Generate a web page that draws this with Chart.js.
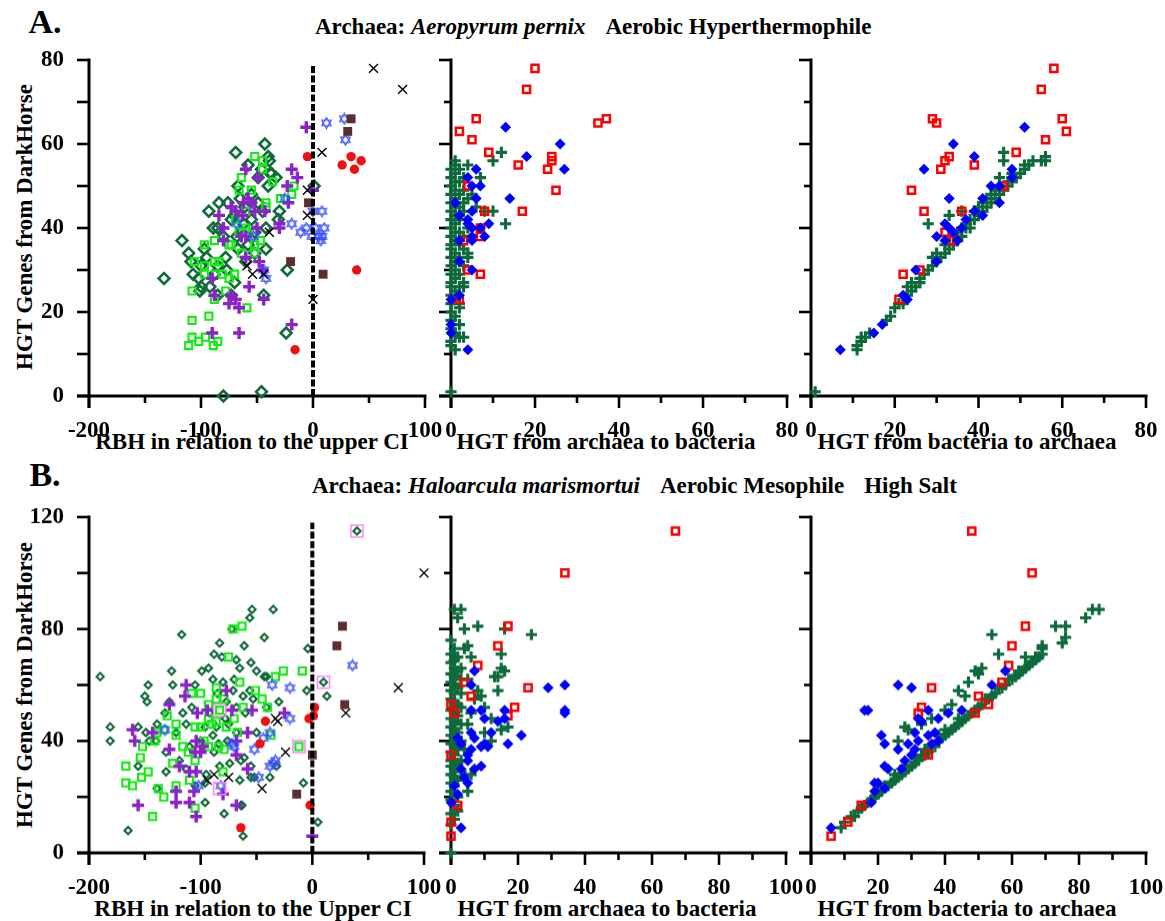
<!DOCTYPE html>
<html><head><meta charset="utf-8">
<script src="https://cdn.jsdelivr.net/npm/chart.js@4.4.0/dist/chart.umd.min.js"></script>
<style>
html,body{margin:0;padding:0;background:#fff;width:1165px;height:921px;overflow:hidden;position:relative;font-family:'Liberation Serif','Times New Roman',serif;}
canvas{position:absolute;}
.t{position:absolute;white-space:nowrap;font-weight:bold;color:#000;line-height:1;transform:translate(-50%,-50%);}
.tl{position:absolute;white-space:nowrap;font-weight:bold;color:#000;line-height:1;font-size:23px;transform:translate(0,-50%);}
.gap{display:inline-block;width:20px;}
.yt{position:absolute;white-space:nowrap;font-weight:bold;color:#000;line-height:1;font-size:23px;transform:translate(-50%,-50%) rotate(-90deg);}
.xt{position:absolute;white-space:nowrap;font-weight:bold;color:#000;line-height:1;font-size:23px;transform:translate(-50%,-50%);}
</style></head><body>
<div class="t" style="left:45px;top:22px;font-size:34px;">A.</div>
<div class="tl" style="left:315px;top:26px;">Archaea: <i>Aeropyrum pernix</i><span class="gap"></span>Aerobic Hyperthermophile</div>
<div class="t" style="left:45px;top:475px;font-size:34px;">B.</div>
<div class="tl" style="left:312px;top:485px;">Archaea: <i>Haloarcula marismortui</i><span class="gap"></span>Aerobic Mesophile<span class="gap"></span>High Salt</div>
<div class="yt" style="left:24px;top:227px;">HGT Genes from DarkHorse</div>
<div class="yt" style="left:24px;top:685px;">HGT Genes from DarkHorse</div>
<div class="xt" style="left:252px;top:441px;">RBH in relation to the upper CI</div>
<div class="xt" style="left:606px;top:441px;">HGT from archaea to bacteria</div>
<div class="xt" style="left:967px;top:441px;">HGT from bacteria to archaea</div>
<div class="xt" style="left:253px;top:908px;">RBH in relation to the Upper CI</div>
<div class="xt" style="left:607px;top:908px;">HGT from archaea to bacteria</div>
<div class="xt" style="left:967px;top:908px;">HGT from bacteria to archaea</div>
<canvas id="a1"></canvas><canvas id="a2"></canvas><canvas id="a3"></canvas>
<canvas id="b1"></canvas><canvas id="b2"></canvas><canvas id="b3"></canvas>
<script>
// ---------------- DATA ----------------
// Panel A1: RBH (x) vs HGT genes (y)
const a1Diamonds = [[-133,28],[-117,37],[-111,34],[-107,29],[-101,25],[-93,44],[-84,46],[-89,40],[-80,0],[-69,58],[-43,60],[-46,1],[-24,15],[-23,30],[1,50],[-30,44],[-42,35],[-44,24],[-40,57],[-38,53],[-39,56],[-58,55],[-67,50],[-61,45],[-73,42],[-55,42],[-49,46],[-37,53],[-78,33],[-85,31],[-100,31],[-109,32],[-70,27],[-100,26],[-67,35],[-80,38],[-49,52],[-46,54],[-33,52],[-31,42],[-55,48],[-76,46],[-85,40],[-97,35],[-73,24],[-85,24],[-102,28],[-92,26],[-64,39],[-58,36],[-52,34],[-40,50],[-62,41],[-70,43],[-52,39],[-45,44],[-65,47],[-95,33],[-88,29],[-77,30],[-60,32],[-68,38],[-42,40]];
const a1Lime = [[-52,57],[-45,56],[-45,54],[-64,52],[-36,51],[-66,49],[-55,49],[-42,46],[-42,45],[-17,50],[-19,48],[-29,47],[-69,42],[-60,40],[-66,39],[-73,36],[-88,37],[-97,36],[-52,36],[-64,34],[-52,34],[-106,32],[-97,31],[-88,32],[-84,32],[-97,29],[-87,29],[-81,29],[-75,28],[-70,29],[-108,25],[-88,23],[-78,25],[-59,21],[-108,18],[-93,19],[-108,14],[-102,13],[-96,14],[-85,13],[-111,12],[-89,12],[-75,36],[-60,44],[-58,39],[-47,37]];
const a1Purple = [[-6,64],[-60,54],[-49,52],[-19,54],[-14,52],[-23,50],[-73,45],[-84,43],[-69,44],[-58,47],[-63,43],[-43,44],[-30,41],[-30,40],[-60,38],[-80,40],[-80,37],[-50,40],[-60,33],[-48,32],[-57,26],[-90,28],[-88,24],[-73,24],[-69,23],[-66,21],[-75,22],[-44,23],[-90,15],[-66,15],[-19,17],[0,49],[-55,46],[-62,46],[-52,44],[-64,38],[-45,30],[-22,46]];
const a1Stars = [[28,66],[12,65],[29,61],[0,44],[8,44],[-19,41],[-11,39],[-6,40],[-1,38],[5,38],[10,40],[7,37],[-25,47],[-68,41],[-53,38],[-44,30],[-42,28],[2,40],[8,38]];
const a1Cross = [[54,78],[80,73],[8,58],[-5,49],[-5,43],[0,23],[-39,39],[-59,31],[-54,29],[-44,29]];
const a1Brown = [[34,66],[31,63],[-4,46],[-20,32],[9,29]];
const a1Red = [[-5,57],[26,55],[34,57],[37,54],[43,56],[39,30],[-16,11]];
const a1RefLine = [[0,0],[0,79]];

// Panel A2: HGT archaea->bacteria (x) vs HGT genes (y)
const a2Red = [[20,78],[18,73],[6,66],[2,63],[5,61],[9,58],[16,55],[24,57],[24,56],[23,54],[35,65],[37,66],[25,49],[17,44],[8,44],[4,50],[7,40],[7,38],[3,37],[4,30],[7,29],[2,23]];
const a2Blue = [[13,64],[26,60],[18,57],[27,54],[6,54],[4,52],[5,50],[7,50],[6,47],[14,47],[1,46],[5,44],[2,43],[9,41],[4,41],[5,40],[7,40],[5,38],[8,38],[2,37],[5,37],[2,32],[5,30],[0,23],[2,24],[0,17],[0,15],[4,11],[4,42]];
const a2Green = [[1,56],[4,55],[10,56],[12,58],[7,52],[3,52],[10,44],[8,44],[13,41],[4,33],[3,26],[2,22],[0,1],[1,14.5],[2,14],[0,20],[6,45],[5,48],[2,54],[3,49],[1,51],[1,11],[3,14],
 [0,12],[0,13],[0,16],[0,18],[0,22],[0,24],[0,26],[0,27],[0,29],[0,31],[0,33],[0,35],[0,36],[0,38],[0,40],[0,42],[0,44],[0,46],[0,48],[0,50],[0,52],[0,54],
 [1,15],[1,19],[1,23],[1,25],[1,28],[1,30],[1,32],[1,34],[1,37],[1,39],[1,41],[1,43],[1,45],[1,47],[1,49],[1,53],[1,55],
 [2,17],[2,21],[2,26],[2,29],[2,33],[2,36],[2,39],[2,42],[2,45],[2,48],[2,51],[3,27],[3,31],[3,35],[3,38],[3,44],[3,46],[4,34],[4,40],[4,47]];

// Panel A3: HGT bacteria->archaea (x) vs HGT genes (y)
const a3Red = [[58,78],[55,73],[29,66],[30,65],[60,66],[61,63],[56,61],[49,58],[33,57],[32,56],[31,54],[39,55],[24,49],[46,50],[27,44],[36,44],[32,39],[34,37],[26,30],[22,29],[21,23]];
const a3Blue = [[51,64],[34,60],[39,57],[27,54],[48,54],[48,52],[43,50],[45,50],[41,47],[33,47],[45,46],[39,44],[41,43],[32,41],[37,42],[36,40],[34,39],[33,40],[30,38],[32,37],[35,37],[30,32],[25,30],[22,24],[23,23],[17,17],[15,15],[7,11]];
const a3Green = [[1,1],[11,11],[11,12],[12,13],[12,14],[13,14],[14,15],[18,18],[19,19],[20,21],[21,22],[22,22],[23,24],[23,26],[24,25],[24,27],[25,26],[26,28],[26,27],[27,29],[28,30],[28,41],[29,31],[29,33],[30,32],[30,34],[31,33],[32,34],[32,36],[33,35],[33,43],[34,36],[34,38],[35,37],[35,39],[36,38],[36,44],[37,40],[37,41],[38,40],[38,42],[39,42],[39,44],[40,43],[40,45],[41,44],[41,46],[42,45],[42,47],[43,46],[43,48],[44,47],[44,49],[45,48],[45,52],[46,49],[46,56],[46,58],[47,50],[47,51],[48,51],[48,53],[49,52],[50,53],[51,54],[51,55],[52,55],[53,56],[55,56],[56,57],[56,56]];

// Panel B1
const b1Diamonds = [[-190,63],[-181,45],[-181,40],[-165,8],[-156,45],[-147,60],[-150,56],[-148,54],[-117,78],[-126,65],[-139,46],[-139,23],[-131,29],[-156,31],[-99,65],[-93,66],[-88,71],[-83,75],[-72,80],[-61,74],[-54,87],[-56,84],[-35,87],[-43,77],[-81,70],[-68,69],[-65,66],[-55,68],[-50,65],[-43,63],[-4,73],[-5,58],[-8,25],[5,11],[-62,6],[-79,14],[-96,18],[-64,17],[-64,33],[-38,27],[-32,31],[-55,27],[-65,26],[-77,54],[-68,52],[-105,60],[-89,62],[-80,61],[-85,57],[-71,58],[-62,56],[-56,58],[-53,55],[-96,45],[-86,45],[-75,46],[-68,43],[-89,42],[-84,39],[-113,46],[-116,50],[-122,43],[-110,38],[-119,33],[-131,36],[-140,40],[-146,40],[-149,43],[-132,50],[-128,54],[-113,30],[-95,28],[-105,24],[-96,25],[-83,31],[-74,32],[-55,31],[-50,43],[-41,52],[-30,54],[40,115],[10,61],[13,56],[-61,34],[-52,27],[-63,17],[-41,63],[-100,40],[-92,50],[-78,48],[-70,62],[-60,50],[-108,52],[-125,60],[-88,36],[-76,40]];
const b1Lime = [[-71,80],[-63,81],[-9,65],[-26,65],[-33,63],[-12,38],[-75,70],[-65,61],[-51,58],[-108,57],[-100,57],[-86,59],[-79,55],[-86,55],[-93,53],[-83,51],[-62,52],[-45,55],[-40,52],[-130,49],[-122,46],[-93,48],[-90,46],[-86,47],[-77,45],[-100,45],[-105,45],[-67,43],[-122,42],[-133,44],[-141,40],[-152,38],[-154,34],[-167,31],[-167,25],[-161,24],[-153,27],[-147,29],[-138,23],[-133,20],[-143,13],[-122,24],[-105,16],[-110,26],[-93,38],[-84,38],[-79,37],[-80,29],[-105,33],[-125,32],[-111,36],[-116,38],[-37,42],[-139,43],[-70,48],[-97,40]];
const b1Purple = [[-113,60],[-114,56],[-128,53],[-161,44],[-159,40],[-143,43],[-128,37],[-103,50],[-94,51],[-72,51],[-54,51],[-77,58],[-58,43],[-104,40],[-105,36],[-100,36],[-68,35],[-119,31],[-104,29],[-122,22],[-122,18],[-110,18],[-104,13],[-106,22],[-80,21],[-68,17],[-156,17],[-58,30],[-25,50],[0,6],[-68,40],[-215,36],[-98,38],[-110,29]];
const b1Stars = [[36,67],[-20,59],[-36,60],[-20,48],[-48,27],[-38,43],[-33,33],[-38,31],[-44,41],[-52,37],[-72,39],[-70,38],[-82,24],[-102,24],[-132,44],[-35,32]];
const b1Cross = [[100,100],[77,59],[30,50],[-31,47],[-33,48],[-24,36],[-45,23],[-75,27],[-88,28],[-94,26]];
const b1Brown = [[27,81],[22,74],[29,53],[0,35],[-14,21]];
const b1Red = [[2,52],[1,49],[-3,48],[-42,47],[-47,39],[-2,17],[-64,9]];
const b1Pink = [[40,115],[10,61],[-12,38],[-83,51],[-83,23]];
const b1RefLine = [[0,0],[0,118]];

// Panel B2
const b2Red = [[67,115],[34,100],[17,81],[14,74],[8,67],[4,61],[6,56],[23,59],[19,52],[17,49],[0,53],[1,50],[0,35],[2,17],[0,11],[0,6]];
const b2Blue = [[7,65],[6,60],[29,59],[34,60],[34,51],[34,50],[6,51],[9,51],[10,48],[16,51],[16,48],[14,47],[12,43],[21,42],[17,39],[6,43],[7,41],[2,41],[3,39],[9,38],[11,38],[10,39],[6,37],[5,35],[3,30],[5,33],[9,31],[7,30],[4,27],[5,25],[1,24],[2,21],[0,18],[3,9]];
const b2Green = [[1,87],[3,87],[2,84],[4,80],[8,81],[16,80],[24,78],[0,76],[4,73],[5,74],[6,70],[15,71],[15,66],[16,65],[13,63],[14,63],[14,58],[8,58],[9,56],[10,52],[12,48],[15,44],[17,45],[10,43],[12,40],[6,28],[0,0],[3,66],[5,62],[7,55],[6,50],[5,46],[4,37],[3,33],[2,15],[5,22],
 [0,10],[0,14],[0,19],[0,22],[0,25],[0,28],[0,31],[0,33],[0,36],[0,39],[0,42],[0,45],[0,48],[0,51],[0,55],[0,58],[0,61],[0,64],[0,68],[0,71],
 [1,12],[1,17],[1,24],[1,27],[1,30],[1,35],[1,38],[1,41],[1,44],[1,47],[1,50],[1,54],[1,57],[1,60],[1,63],[1,66],[1,69],[1,73],
 [2,20],[2,26],[2,32],[2,37],[2,43],[2,49],[2,53],[2,59],[2,65],[2,70],[3,29],[3,40],[3,46],[3,52],[3,57],[3,62]];

// Panel B3
const b3Red = [[48,115],[66,100],[64,81],[60,74],[59,67],[36,59],[57,61],[50,56],[53,53],[49,50],[33,52],[32,50],[35,35],[15,17],[11,11],[6,6]];
const b3Blue = [[26,60],[30,59],[58,65],[54,60],[45,51],[41,50],[35,51],[38,48],[16,51],[17,51],[32,48],[33,47],[31,43],[37,43],[35,42],[32,40],[36,39],[38,40],[21,42],[22,39],[29,39],[31,37],[26,37],[30,35],[28,33],[22,31],[23,30],[27,30],[19,25],[20,25],[22,23],[19,22],[18,18],[6,9]];
const b3Green = [[54,78],[56,71],[64,70],[49,65],[50,64],[51,66],[44,58],[46,56],[42,53],[36,48],[28,45],[29,44],[26,40],[73,81],[76,81],[76,77],[75,75],[82,84],[84,87],[86,87],[69,74],[69,73],[67,70],[62,65],[64,66],[47,61],[40,51],[33,46],
 [9,9],[10,11],[12,13],[13,13],[14,15],[15,16],[16,17],[17,18],[18,19],[19,20],[20,21],[20,22],[21,22],[22,24],[23,24],[24,25],[25,26],[25,28],[26,27],[27,28],[28,29],[28,31],[29,30],[30,31],[31,32],[31,34],[32,33],[33,35],[34,35],[34,37],[35,36],[36,38],[37,38],[38,40],[38,42],[39,41],[40,42],[40,44],[41,43],[42,44],[43,45],[44,46],[44,48],[45,47],[46,48],[47,49],[48,50],[49,51],[50,52],[51,53],[52,55],[53,55],[54,56],[55,57],[56,59],[57,59],[58,60],[59,62],[60,62],[61,63],[62,64],[63,65],[64,66],[65,67],[66,68],[67,69],[68,70],[69,71]];

// Tick values
const ticksRBH = [-200,-100,0,100];
const ticksRBHMinor = [-150,-50,50];
const ticksA_y = [0,20,40,60,80];
const ticksA_yMinor = [10,30,50,70];
const ticksA_x = [0,20,40,60,80];
const ticksA_xMinor = [10,30,50,70];
const ticksB_y = [0,40,80,120];
const ticksB_yMinor = [20,60,100];
const ticksB_x = [0,20,40,60,80,100];
const ticksB_xMinor = [10,30,50,70,90];

// ---------------- RENDERING ----------------
const FONT = "'Liberation Serif','Times New Roman',serif";
const CLEAR = 'rgba(0,0,0,0)';

function hexagram(color, size){
  const c = document.createElement('canvas');
  c.width = size; c.height = size;
  const g = c.getContext('2d');
  g.strokeStyle = color; g.lineWidth = 1.1;
  const cx = size/2, cy = size/2, r = size/2 - 1;
  [-Math.PI/2, Math.PI/2].forEach(a0 => {
    g.beginPath();
    for (let k=0;k<3;k++){ const a=a0+k*2*Math.PI/3; const px=cx+r*Math.cos(a), py=cy+r*Math.sin(a); k?g.lineTo(px,py):g.moveTo(px,py);}
    g.closePath(); g.stroke();
  });
  return c;
}
const starImg = hexagram('#2e4bff', 13);

const ST = {
  diaBig:  {pointStyle:'rectRot', pointRadius:5.4, pointBorderWidth:2.6, pointBorderColor:'#0e6b3a', pointBackgroundColor:CLEAR},
  diaSm:   {pointStyle:'rectRot', pointRadius:3.6, pointBorderWidth:2.1, pointBorderColor:'#0e6b3a', pointBackgroundColor:CLEAR},
  lime:    {pointStyle:'rect', pointRadius:5.0, pointBorderWidth:2.1, pointBorderColor:'#13ec13', pointBackgroundColor:CLEAR},
  purple:  {pointStyle:'cross', pointRadius:6.0, pointBorderWidth:3.4, pointBorderColor:'#8c22c9'},
  star:    {pointStyle:starImg, pointRadius:6},
  xmark:   {pointStyle:'crossRot', pointRadius:6.3, pointBorderWidth:1.4, pointBorderColor:'#000'},
  brown:   {pointStyle:'rect', pointRadius:6.3, pointBorderWidth:0, pointBackgroundColor:'#5b2f2f'},
  red:     {pointStyle:'circle', pointRadius:4.7, pointBorderWidth:0, pointBackgroundColor:'#ee1111'},
  gplus:   {pointStyle:'cross', pointRadius:5.6, pointBorderWidth:3.1, pointBorderColor:'#0d6a3b'},
  bdia:    {pointStyle:'rectRot', pointRadius:5.5, pointBorderWidth:0, pointBackgroundColor:'#0000ff'},
  rsq:     {pointStyle:'rect', pointRadius:5.0, pointBorderWidth:2.5, pointBorderColor:'#ff0000', pointBackgroundColor:CLEAR},
  pink:    {pointStyle:'rect', pointRadius:8.5, pointBorderWidth:1.5, pointBorderColor:'#ff85ff', pointBackgroundColor:CLEAR}
};
function ds(arr, style){ return Object.assign({data: arr.map(p=>({x:p[0], y:p[1]})), clip:false, showLine:false}, style); }
function refLine(arr){ return {type:'line', data: arr.map(p=>({x:p[0], y:p[1]})), showLine:true, borderColor:'#000', borderWidth:4, borderDash:[7,2.5], pointRadius:0, clip:false, fill:false}; }

const axesPlugin = {
  id:'axesTicks',
  beforeDatasetsDraw(chart, args, o){
    const {ctx, scales:{x, y}} = chart;
    const yb = y.getPixelForValue(y.min), yt = y.getPixelForValue(y.max);
    const xl = x.getPixelForValue(x.min), xr = x.getPixelForValue(x.max);
    ctx.save();
    ctx.strokeStyle = '#000'; ctx.lineCap = 'butt';
    ctx.lineWidth = 3;
    ctx.beginPath(); ctx.moveTo(xl - o.yLen, yb); ctx.lineTo(xr + 1.5, yb); ctx.stroke();
    ctx.beginPath(); ctx.moveTo(xl, yt - 1.5); ctx.lineTo(xl, yb + o.xLen); ctx.stroke();
    ctx.lineWidth = 2.6;
    const tick = (x1,y1,x2,y2)=>{ctx.beginPath();ctx.moveTo(x1,y1);ctx.lineTo(x2,y2);ctx.stroke();};
    o.xMajor.forEach(v=>{const p=x.getPixelForValue(v); tick(p,yb,p,yb+o.xLen);});
    o.xMinor.forEach(v=>{const p=x.getPixelForValue(v); tick(p,yb,p,yb+o.xMinLen);});
    o.yMajor.forEach(v=>{const p=y.getPixelForValue(v); tick(xl,p,xl-o.yLen,p);});
    o.yMinor.forEach(v=>{const p=y.getPixelForValue(v); tick(xl,p,xl-o.yMinLen,p);});
    ctx.restore();
  }
};

const YW = 80, XH = 50, PT = 20, PR = 19;
function makeChart(id, box, xr, yr, datasets, tk, showY){
  const cv = document.getElementById(id);
  const w = (box.r - box.l) + YW + PR, h = (box.b - box.t) + PT + XH;
  cv.width = w; cv.height = h;
  cv.style.left = (box.l - YW) + 'px'; cv.style.top = (box.t - PT) + 'px';
  cv.style.width = w + 'px'; cv.style.height = h + 'px';
  new Chart(cv, {
    type:'scatter',
    data:{datasets},
    options:{
      responsive:false, animation:false, events:[],
      layout:{padding:{left:0, right:PR, top:PT, bottom:0}},
      plugins:{legend:{display:false}, tooltip:{enabled:false}, axesTicks:tk},
      scales:{
        x:{type:'linear', min:xr[0], max:xr[1],
           afterBuildTicks: s => { s.ticks = xr[2].map(v=>({value:v})); },
           afterFit: s => { s.height = XH; s.paddingLeft = 0; s.paddingRight = 0; },
           ticks:{font:{family:FONT, size:23, weight:'bold'}, color:'#000', padding:13, autoSkip:false, maxRotation:0, minRotation:0},
           grid:{display:false}, border:{display:false}},
        y:{type:'linear', min:yr[0], max:yr[1],
           afterBuildTicks: s => { s.ticks = yr[2].map(v=>({value:v})); },
           afterFit: s => { s.width = YW; s.paddingTop = 0; s.paddingBottom = 0; },
           ticks:{display:showY, font:{family:FONT, size:23, weight:'bold'}, color:'#000', padding:17},
           grid:{display:false}, border:{display:false}}
      }
    },
    plugins:[axesPlugin]
  });
}

const tkRBH_A = {xMajor:ticksRBH, xMinor:ticksRBHMinor, yMajor:ticksA_y.concat(ticksA_yMinor), yMinor:[], xLen:12, xMinLen:7, yLen:12, yMinLen:12};
const tkA = {xMajor:ticksA_x, xMinor:ticksA_xMinor, yMajor:ticksA_y, yMinor:ticksA_yMinor, xLen:12, xMinLen:7, yLen:12, yMinLen:7};
const tkRBH_B = {xMajor:ticksRBH, xMinor:ticksRBHMinor, yMajor:ticksB_y.concat(ticksB_yMinor), yMinor:[], xLen:12, xMinLen:7, yLen:12, yMinLen:12};
const tkB = {xMajor:ticksB_x, xMinor:ticksB_xMinor, yMajor:ticksB_y, yMinor:ticksB_yMinor, xLen:12, xMinLen:7, yLen:12, yMinLen:7};

makeChart('a1', {l:89, r:425, t:59.5, b:395.5}, [-200,100,ticksRBH], [0,80,ticksA_y], [
  refLine(a1RefLine), ds(a1Red, ST.red), ds(a1Brown, ST.brown), ds(a1Cross, ST.xmark), ds(a1Stars, ST.star),
  ds(a1Purple, ST.purple), ds(a1Lime, ST.lime), ds(a1Diamonds, ST.diaBig)], tkRBH_A, true);
makeChart('a2', {l:451, r:787, t:59.5, b:395.5}, [0,80,ticksA_x], [0,80,ticksA_y], [
  ds(a2Blue, ST.bdia), ds(a2Red, ST.rsq), ds(a2Green, ST.gplus)], tkA, false);
makeChart('a3', {l:811, r:1146, t:59.5, b:395.5}, [0,80,ticksA_x], [0,80,ticksA_y], [
  ds(a3Blue, ST.bdia), ds(a3Red, ST.rsq), ds(a3Green, ST.gplus)], tkA, false);
makeChart('b1', {l:89, r:424, t:517, b:852.5}, [-200,100,ticksRBH], [0,120,ticksB_y], [
  refLine(b1RefLine), ds(b1Pink, ST.pink), ds(b1Red, ST.red), ds(b1Brown, ST.brown), ds(b1Cross, ST.xmark), ds(b1Stars, ST.star),
  ds(b1Purple, ST.purple), ds(b1Lime, ST.lime), ds(b1Diamonds, ST.diaSm)], tkRBH_B, true);
makeChart('b2', {l:451, r:786, t:517, b:852.5}, [0,100,ticksB_x], [0,120,ticksB_y], [
  ds(b2Blue, ST.bdia), ds(b2Red, ST.rsq), ds(b2Green, ST.gplus)], tkB, false);
makeChart('b3', {l:811, r:1146, t:517, b:852.5}, [0,100,ticksB_x], [0,120,ticksB_y], [
  ds(b3Blue, ST.bdia), ds(b3Red, ST.rsq), ds(b3Green, ST.gplus)], tkB, false);
</script>
</body></html>
